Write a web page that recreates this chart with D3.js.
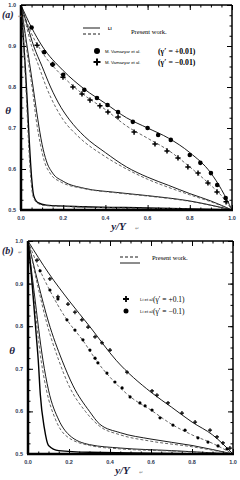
<!DOCTYPE html>
<html>
<head>
<meta charset="utf-8">
<script src="https://cdn.jsdelivr.net/npm/d3@7"></script>
<style>
  body { margin: 0; background: #fff; }
  svg { display: block; }
</style>
</head>
<body>
<svg id="chart" width="240" height="480"></svg>
<script>
// x ticks and y ticks (both panels)
const xTicks = [0, 0.2, 0.4, 0.6, 0.8, 1.0];
const yTicks = [0.5, 0.6, 0.7, 0.8, 0.9, 1.0];

// ---- panel (a) : present work, solid / dashed pairs ----
const a1SolidX = [0, 0.05, 0.1, 0.2, 0.3, 0.4, 0.5, 0.6, 0.7, 0.8, 0.9, 0.95, 1.0];
const a1SolidY = [1, 0.945, 0.9, 0.84, 0.795, 0.76, 0.725, 0.70, 0.675, 0.64, 0.59, 0.55, 0.5];
const a1DashX = [0, 0.05, 0.1, 0.2, 0.3, 0.4, 0.5, 0.6, 0.7, 0.8, 0.9, 0.95, 1.0];
const a1DashY = [1, 0.93, 0.885, 0.825, 0.78, 0.745, 0.705, 0.675, 0.645, 0.605, 0.56, 0.535, 0.5];
const a2SolidX = [0, 0.03, 0.06, 0.1, 0.14, 0.19, 0.23, 0.3, 0.4, 0.5, 0.6, 0.7, 0.8, 0.9, 1.0];
const a2SolidY = [1, 0.95, 0.9, 0.85, 0.8, 0.75, 0.72, 0.68, 0.64, 0.605, 0.58, 0.56, 0.54, 0.522, 0.5];
const a2DashX = [0, 0.025, 0.05, 0.085, 0.12, 0.165, 0.2, 0.27, 0.4, 0.5, 0.6, 0.7, 0.8, 0.9, 1.0];
const a2DashY = [1, 0.95, 0.9, 0.85, 0.8, 0.75, 0.72, 0.68, 0.63, 0.6, 0.575, 0.555, 0.537, 0.52, 0.5];
const a3SolidX = [0, 0.02, 0.04, 0.06, 0.08, 0.1, 0.12, 0.15, 0.2, 0.3, 0.45, 0.6, 0.8, 1.0];
const a3SolidY = [1, 0.93, 0.86, 0.79, 0.72, 0.66, 0.62, 0.59, 0.57, 0.553, 0.543, 0.535, 0.522, 0.5];
const a3DashX = [0, 0.018, 0.035, 0.055, 0.072, 0.092, 0.11, 0.14, 0.19, 0.3, 0.45, 0.6, 0.8, 1.0];
const a3DashY = [1, 0.93, 0.86, 0.79, 0.72, 0.66, 0.62, 0.588, 0.568, 0.552, 0.542, 0.534, 0.521, 0.5];
const a4SolidX = [0, 0.01, 0.02, 0.03, 0.04, 0.05, 0.06, 0.08, 0.12, 0.3, 0.6, 1.0];
const a4SolidY = [1, 0.93, 0.85, 0.76, 0.66, 0.58, 0.535, 0.518, 0.512, 0.508, 0.505, 0.5];
const a4DashX = [0, 0.009, 0.018, 0.027, 0.036, 0.046, 0.056, 0.075, 0.11, 0.3, 0.6, 1.0];
const a4DashY = [1, 0.93, 0.85, 0.76, 0.66, 0.58, 0.535, 0.518, 0.511, 0.507, 0.504, 0.5];

// M. Vamazyar et al.
const aCircX = [0.05, 0.11, 0.15, 0.2, 0.3, 0.36, 0.41, 0.46, 0.53, 0.6, 0.65, 0.71, 0.8, 0.85, 0.9, 0.93, 0.97];
const aCircY = [0.945, 0.885, 0.855, 0.83, 0.793, 0.773, 0.756, 0.739, 0.715, 0.70, 0.683, 0.671, 0.634, 0.615, 0.59, 0.561, 0.529];
const aPlusX = [0.076, 0.15, 0.199, 0.246, 0.289, 0.327, 0.374, 0.412, 0.46, 0.536, 0.635, 0.692, 0.744, 0.791, 0.839, 0.886, 0.929, 0.972];
const aPlusY = [0.902, 0.855, 0.824, 0.80, 0.783, 0.768, 0.754, 0.739, 0.727, 0.69, 0.661, 0.644, 0.627, 0.605, 0.59, 0.566, 0.544, 0.52];

// ---- panel (b) ----
const b1SolidX = [0, 0.1, 0.2, 0.3, 0.43, 0.6, 0.7, 0.8, 0.9, 1.0];
const b1SolidY = [1, 0.925, 0.86, 0.8, 0.72, 0.645, 0.61, 0.575, 0.545, 0.5];
const b2DashX = [0, 0.05, 0.1, 0.19, 0.27, 0.34, 0.42, 0.5, 0.6, 0.7, 0.8, 0.9, 1.0];
const b2DashY = [1, 0.94, 0.89, 0.815, 0.765, 0.715, 0.67, 0.634, 0.603, 0.57, 0.545, 0.525, 0.5];
const b3SolidX = [0, 0.05, 0.1, 0.166, 0.22, 0.3, 0.35, 0.45, 0.6, 0.8, 1.0];
const b3SolidY = [1, 0.9, 0.81, 0.72, 0.66, 0.6, 0.57, 0.55, 0.535, 0.52, 0.5];
const b3DashX = [0, 0.045, 0.09, 0.15, 0.2, 0.28, 0.35, 0.45, 0.6, 0.8, 1.0];
const b3DashY = [1, 0.9, 0.81, 0.72, 0.66, 0.6, 0.565, 0.545, 0.53, 0.517, 0.5];
const b4SolidX = [0, 0.03, 0.073, 0.1, 0.15, 0.2, 0.3, 0.45, 0.7, 1.0];
const b4SolidY = [1, 0.88, 0.72, 0.65, 0.58, 0.545, 0.522, 0.514, 0.508, 0.5];
const b4DashX = [0, 0.026, 0.064, 0.09, 0.135, 0.185, 0.3, 0.45, 0.7, 1.0];
const b4DashY = [1, 0.88, 0.72, 0.65, 0.58, 0.543, 0.52, 0.512, 0.507, 0.5];
const b5SolidX = [0, 0.02, 0.04, 0.05, 0.06, 0.08, 0.1, 0.15, 0.3, 1.0];
const b5SolidY = [1, 0.9, 0.78, 0.72, 0.64, 0.56, 0.52, 0.508, 0.504, 0.5];

// Li et al.
const bPlusX = [0.044, 0.107, 0.146, 0.195, 0.229, 0.263, 0.293, 0.327, 0.361, 0.4, 0.483, 0.605, 0.629, 0.683, 0.751, 0.815, 0.888, 0.922, 0.951, 0.985];
const bPlusY = [0.955, 0.911, 0.869, 0.852, 0.833, 0.815, 0.798, 0.775, 0.761, 0.744, 0.692, 0.648, 0.638, 0.62, 0.596, 0.575, 0.556, 0.54, 0.526, 0.514];
const bCircX = [0.059, 0.107, 0.146, 0.19, 0.229, 0.268, 0.302, 0.327, 0.341, 0.385, 0.424, 0.459, 0.498, 0.546, 0.571, 0.605, 0.644, 0.707, 0.766, 0.829, 0.878, 0.927, 0.971];
const bCircY = [0.93, 0.885, 0.864, 0.815, 0.791, 0.768, 0.744, 0.725, 0.714, 0.69, 0.669, 0.655, 0.634, 0.62, 0.613, 0.603, 0.585, 0.568, 0.556, 0.538, 0.528, 0.519, 0.512];

const zip = (xs, ys) => xs.map((x, i) => [x, ys[i]]);
const svg = d3.select('#chart');
const labelFont = 'Liberation Sans, Arial, sans-serif';
const serif = 'Liberation Serif, Times New Roman, serif';

function drawPanel(p) {
  const x = d3.scaleLinear().domain([0, 1]).range([p.left, p.right]);
  const y = d3.scaleLinear().domain([0.5, 1]).range([p.bottom, p.top]);
  const g = svg.append('g');
  const line = d3.line().x(d => x(d[0])).y(d => y(d[1])).curve(d3.curveMonotoneX);

  p.lines.forEach(l => {
    g.append('path')
      .attr('d', line(zip(l.xs, l.ys)))
      .attr('fill', 'none')
      .attr('stroke', l.dash ? '#555' : '#000')
      .attr('stroke-width', l.w || 0.9)
      .attr('stroke-dasharray', l.dash ? '3,2' : null);
  });

  // markers
  g.selectAll('circle.pt').data(zip(p.circX, p.circY)).join('circle')
    .attr('cx', d => x(d[0])).attr('cy', d => y(d[1]))
    .attr('r', p.circR).attr('fill', '#000');
  g.selectAll('path.plus').data(zip(p.plusX, p.plusY)).join('path')
    .attr('d', d => {
      const cx = x(d[0]), cy = y(d[1]), s = p.plusS;
      return `M${cx - s},${cy}H${cx + s}M${cx},${cy - s}V${cy + s}`;
    })
    .attr('stroke', '#000').attr('stroke-width', p.plusW);

  // axes: ticks inside on all four sides
  const inner = (axis, size) => axis.tickSize(size).tickFormat('');
  const xMinor = d3.range(0, 1.0001, 0.05);
  const yMinor = d3.range(0.5, 1.0001, 0.025);
  g.append('g').attr('transform', `translate(0,${p.bottom})`)
    .call(inner(d3.axisTop(x).tickValues(xMinor), 2.5));
  g.append('g').attr('transform', `translate(0,${p.bottom})`)
    .call(inner(d3.axisTop(x).tickValues(xTicks), 5));
  g.append('g').attr('transform', `translate(0,${p.top})`)
    .call(inner(d3.axisBottom(x).tickValues(xMinor), 2.5));
  g.append('g').attr('transform', `translate(0,${p.top})`)
    .call(inner(d3.axisBottom(x).tickValues(xTicks), 5));
  g.append('g').attr('transform', `translate(${p.left},0)`)
    .call(inner(d3.axisRight(y).tickValues(yMinor), 2.5));
  g.append('g').attr('transform', `translate(${p.left},0)`)
    .call(inner(d3.axisRight(y).tickValues(yTicks), 5));
  g.append('g').attr('transform', `translate(${p.right},0)`)
    .call(inner(d3.axisLeft(y).tickValues(yMinor), 2.5));
  g.append('g').attr('transform', `translate(${p.right},0)`)
    .call(inner(d3.axisLeft(y).tickValues(yTicks), 5));
  g.selectAll('.domain').remove();
  g.selectAll('.tick line').attr('stroke', '#000').attr('stroke-width', 1);

  // frame
  g.append('line').attr('x1', p.left).attr('x2', p.right).attr('y1', p.top).attr('y2', p.top)
    .attr('stroke', '#000').attr('stroke-width', 1.5);
  g.append('line').attr('x1', p.right).attr('x2', p.right).attr('y1', p.top).attr('y2', p.bottom)
    .attr('stroke', '#000').attr('stroke-width', 1.5);
  g.append('line').attr('x1', p.left).attr('x2', p.left).attr('y1', p.top).attr('y2', p.bottom)
    .attr('stroke', '#000').attr('stroke-width', 2.5);
  g.append('line').attr('x1', p.left - 1).attr('x2', p.right + 1).attr('y1', p.bottom).attr('y2', p.bottom)
    .attr('stroke', '#000').attr('stroke-width', 2.5);

  // tick labels
  g.selectAll('text.xl').data(xTicks).join('text')
    .attr('x', d => x(d)).attr('y', p.bottom + 10)
    .attr('text-anchor', 'middle').attr('font-family', labelFont)
    .attr('font-size', 5.5).attr('font-weight', 'bold').attr('fill', '#2b3550')
    .text(d => d3.format('.1f')(d));
  g.selectAll('text.yl').data(yTicks).join('text')
    .attr('x', p.left - 5).attr('y', d => y(d) + 2)
    .attr('text-anchor', 'end').attr('font-family', labelFont)
    .attr('font-size', 5.5).attr('font-weight', 'bold').attr('fill', '#2b3550')
    .text(d => d3.format('.1f')(d));

  // titles
  g.append('text').attr('x', p.thetaX).attr('y', (p.top + p.bottom) / 2 + 6)
    .attr('font-family', serif).attr('font-style', 'italic').attr('font-weight', 'bold')
    .attr('font-size', 11).attr('fill', '#1c2340').attr('text-anchor', 'middle').text('θ');
  g.append('text').attr('x', (p.left + p.right) / 2 - 8).attr('y', p.bottom + 20)
    .attr('font-family', serif).attr('font-style', 'italic').attr('font-weight', 'bold')
    .attr('font-size', 11).attr('fill', '#1c2340').attr('text-anchor', 'middle').text('y/Y');
  g.append('text').attr('x', (p.left + p.right) / 2 + 8).attr('y', p.bottom + 20)
    .attr('font-family', labelFont).attr('font-size', 5).attr('fill', '#888').text('↵');
  g.append('text').attr('x', 2).attr('y', p.top + 13)
    .attr('font-family', serif).attr('font-style', 'italic').attr('font-weight', 'bold')
    .attr('font-size', 10).attr('fill', '#1c2340').text(p.tag);
  g.append('text').attr('x', 18).attr('y', p.top + 13)
    .attr('font-family', labelFont).attr('font-size', 5).attr('fill', '#888').text('↵');
  return { x, y, g };
}

// ---------- panel (a) ----------
drawPanel({
  left: 21, right: 232, top: 5, bottom: 210, tag: '(a)', thetaX: 8,
  lines: [
    { xs: a1SolidX, ys: a1SolidY }, { xs: a1DashX, ys: a1DashY, dash: true },
    { xs: a2SolidX, ys: a2SolidY }, { xs: a2DashX, ys: a2DashY, dash: true },
    { xs: a3SolidX, ys: a3SolidY }, { xs: a3DashX, ys: a3DashY, dash: true },
    { xs: a4SolidX, ys: a4SolidY, w: 1.4 }, { xs: a4DashX, ys: a4DashY, dash: true }
  ],
  circX: aCircX, circY: aCircY, circR: 2.3,
  plusX: aPlusX, plusY: aPlusY, plusS: 2.6, plusW: 1.5
});

// legend (a)
const la = svg.append('g');
la.append('line').attr('x1', 83).attr('x2', 100).attr('y1', 28).attr('y2', 28).attr('stroke', '#000').attr('stroke-width', 0.9);
la.append('line').attr('x1', 83).attr('x2', 100).attr('y1', 34).attr('y2', 34).attr('stroke', '#000').attr('stroke-width', 0.9).attr('stroke-dasharray', '3,2');
la.append('text').attr('x', 108).attr('y', 30).attr('font-family', labelFont).attr('font-size', 4).attr('font-weight', 'bold').text('LI');
la.append('text').attr('x', 131).attr('y', 34).attr('font-family', serif).attr('font-size', 6.5).text('Present work.');
la.append('circle').attr('cx', 97).attr('cy', 51).attr('r', 3).attr('fill', '#000');
la.append('path').attr('d', 'M93.5,62H100.5M97,58.5V65.5').attr('stroke', '#000').attr('stroke-width', 2);
['(γ′ = +0.01)', '(γ′ = −0.01)'].forEach((t, i) => {
  la.append('text').attr('x', 105).attr('y', 53 + i * 11).attr('font-family', labelFont).attr('font-size', 4.3).text('M. Vamazyar et al.');
  la.append('text').attr('x', 158).attr('y', 54 + i * 11).attr('font-family', serif).attr('font-size', 7.8).attr('font-weight', 'bold').text(t);
});

// ---------- panel (b) ----------
drawPanel({
  left: 28, right: 233, top: 241, bottom: 454, tag: '(b)', thetaX: 12,
  lines: [
    { xs: b1SolidX, ys: b1SolidY }, { xs: b2DashX, ys: b2DashY, dash: true },
    { xs: b3SolidX, ys: b3SolidY }, { xs: b3DashX, ys: b3DashY, dash: true },
    { xs: b4SolidX, ys: b4SolidY }, { xs: b4DashX, ys: b4DashY, dash: true },
    { xs: b5SolidX, ys: b5SolidY, w: 1.4 }
  ],
  circX: bCircX, circY: bCircY, circR: 1.6,
  plusX: bPlusX, plusY: bPlusY, plusS: 2, plusW: 1.2
});

// legend (b)
const lb = svg.append('g');
lb.append('line').attr('x1', 120).attr('x2', 140).attr('y1', 257).attr('y2', 257).attr('stroke', '#000').attr('stroke-width', 0.9).attr('stroke-dasharray', '3,2');
lb.append('line').attr('x1', 120).attr('x2', 140).attr('y1', 263).attr('y2', 263).attr('stroke', '#000').attr('stroke-width', 0.9);
lb.append('text').attr('x', 152).attr('y', 260).attr('font-family', serif).attr('font-size', 6.5).text('Present work.');
lb.append('path').attr('d', 'M123,299H129M126,296V302').attr('stroke', '#000').attr('stroke-width', 1.8);
lb.append('circle').attr('cx', 126).attr('cy', 311).attr('r', 2.5).attr('fill', '#000');
['(γ′ = +0.1)', '(γ′ = −0.1)'].forEach((t, i) => {
  lb.append('text').attr('x', 140).attr('y', 301 + i * 12).attr('font-family', labelFont).attr('font-size', 4.3).text('Li et al.');
  lb.append('text').attr('x', 153).attr('y', 302 + i * 12).attr('font-family', serif).attr('font-size', 7.5).text(t);
});
</script>
</body>
</html>
